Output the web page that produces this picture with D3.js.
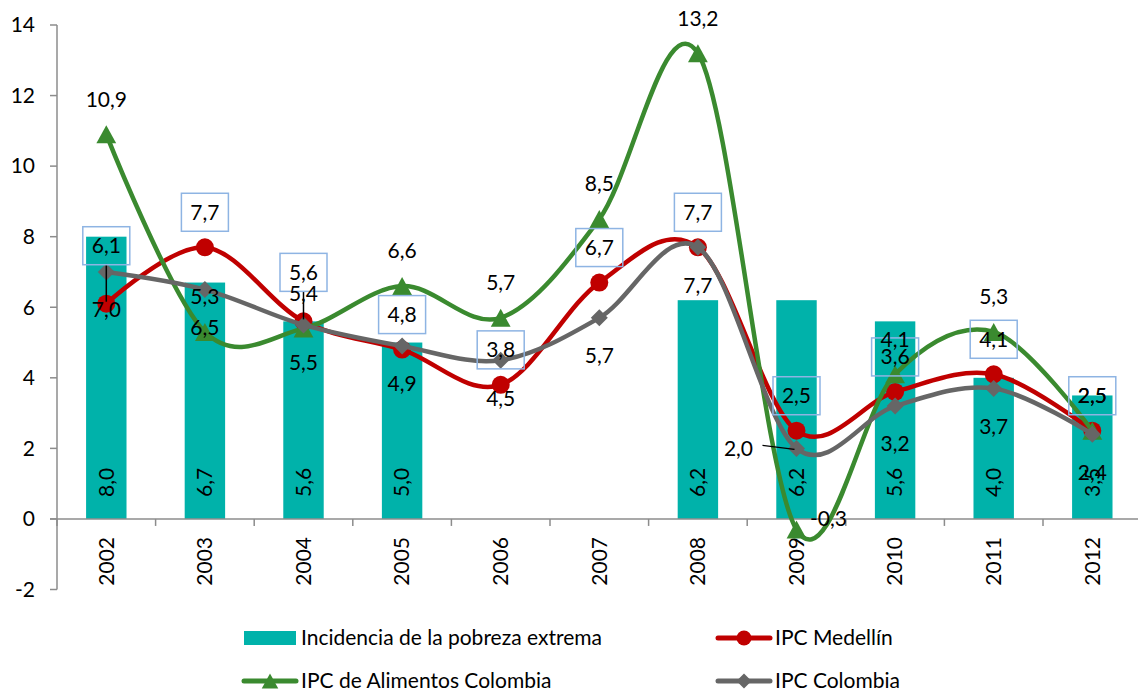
<!DOCTYPE html>
<html>
<head>
<meta charset="utf-8">
<script src="https://cdn.jsdelivr.net/npm/d3@7"></script>
<style>
  body { margin: 0; background: #fff; }
  svg { display: block; font-family: Lato, "Open Sans", sans-serif; }
</style>
</head>
<body>
<div id="chart"></div>
<script>
// Data
const years = ["2002", "2003", "2004", "2005", "2006", "2007", "2008", "2009", "2010", "2011", "2012"];
const pobrezaExtrema = [8.0, 6.7, 5.6, 5.0, null, null, 6.2, 6.2, 5.6, 4.0, 3.5];
const ipcMedellin = [6.1, 7.7, 5.6, 4.8, 3.8, 6.7, 7.7, 2.5, 3.6, 4.1, 2.5];
const ipcAlimentos = [10.9, 5.3, 5.4, 6.6, 5.7, 8.5, 13.2, -0.3, 4.1, 5.3, 2.5];
const ipcColombia = [7.0, 6.5, 5.5, 4.9, 4.5, 5.7, 7.7, 2.0, 3.2, 3.7, 2.4];
const yTicks = [-2, 0, 2, 4, 6, 8, 10, 12, 14];

// Configuration
const width = 1138;
const height = 691;
const fontSize = 21;
const colors = { bar: "#00B2AA", red: "#C00000", green: "#3A8A2F", grey: "#666666", axis: "#8C8C8C", box: "#8EB4E3" };

const locale = d3.formatLocale({ decimal: ",", thousands: ".", grouping: [3], currency: ["", ""], minus: "-" });
const fmt = locale.format(".1f");

const x = d3.scaleBand().domain(years).range([57, 1141.6]);
const y = d3.scaleLinear().domain([-2, 14]).range([589.5, 25]);
const cx = d => x(d) + x.bandwidth() / 2;

const svg = d3.select("#chart").append("svg")
    .attr("width", width)
    .attr("height", height);

// Y axis
const yAxis = svg.append("g");
yAxis.append("line")
    .attr("x1", x.range()[0]).attr("x2", x.range()[0])
    .attr("y1", y(14)).attr("y2", y(-2))
    .attr("stroke", colors.axis).attr("stroke-width", 1.5);
yAxis.selectAll(".tick").data(yTicks).enter().append("line")
    .attr("x1", x.range()[0] - 7).attr("x2", x.range()[0])
    .attr("y1", d => y(d)).attr("y2", d => y(d))
    .attr("stroke", colors.axis).attr("stroke-width", 1.5);
yAxis.selectAll("text").data(yTicks).enter().append("text")
    .attr("x", 35).attr("y", d => y(d)).attr("dy", "0.35em")
    .attr("text-anchor", "end").attr("font-size", fontSize)
    .text(d => locale.format("d")(d));

// Bars
const barW = x.bandwidth() * 0.41;
const barData = years.map((yr, i) => ({ yr, v: pobrezaExtrema[i] })).filter(d => d.v != null);
svg.selectAll(".bar").data(barData).enter().append("rect")
    .attr("x", d => cx(d.yr) - barW / 2)
    .attr("width", barW)
    .attr("y", d => y(d.v))
    .attr("height", d => y(0) - y(d.v))
    .attr("fill", colors.bar);

// X axis
const xAxis = svg.append("g");
xAxis.append("line")
    .attr("x1", x.range()[0] - 7).attr("x2", x.range()[1])
    .attr("y1", y(0)).attr("y2", y(0))
    .attr("stroke", colors.axis).attr("stroke-width", 1.5);
xAxis.selectAll(".tick").data(d3.range(years.length + 1)).enter().append("line")
    .attr("x1", i => x.range()[0] + i * x.step()).attr("x2", i => x.range()[0] + i * x.step())
    .attr("y1", y(0)).attr("y2", y(0) + 7)
    .attr("stroke", colors.axis).attr("stroke-width", 1.5);
xAxis.selectAll("text").data(years).enter().append("text")
    .attr("transform", d => `translate(${cx(d)},${y(0) + 18}) rotate(-90)`)
    .attr("dy", "0.35em").attr("text-anchor", "end").attr("font-size", fontSize)
    .text(d => d);

// Bar labels (inside base)
svg.selectAll(".barlabel").data(barData).enter().append("text")
    .attr("transform", d => `translate(${cx(d.yr)},${y(0) - 22}) rotate(-90)`)
    .attr("dy", "0.35em").attr("text-anchor", "start").attr("font-size", fontSize)
    .text(d => fmt(d.v));

// Markers
const tri = (s) => `M0,${-s}L${s * 1.1},${s}L${-s * 1.1},${s}Z`;
const diamond = (s) => `M0,${-s}L${s},0L0,${s}L${-s},0Z`;

const series = [
    { name: "IPC Medellín", values: ipcMedellin, color: colors.red, marker: "circle" },
    { name: "IPC de Alimentos Colombia", values: ipcAlimentos, color: colors.green, marker: "triangle" },
    { name: "IPC Colombia", values: ipcColombia, color: colors.grey, marker: "diamond" }
];

const line = d3.line()
    .x(d => cx(d.yr))
    .y(d => y(d.v))
    .curve(d3.curveCardinal.tension(0));

series.forEach(s => {
    const pts = years.map((yr, i) => ({ yr, v: s.values[i] }));
    svg.append("path")
        .datum(pts)
        .attr("d", line)
        .attr("fill", "none")
        .attr("stroke", s.color)
        .attr("stroke-width", 4.5);
    const g = svg.append("g");
    if (s.marker === "circle") {
        g.selectAll("circle").data(pts).enter().append("circle")
            .attr("cx", d => cx(d.yr)).attr("cy", d => y(d.v)).attr("r", 9)
            .attr("fill", s.color);
    } else {
        g.selectAll("path").data(pts).enter().append("path")
            .attr("transform", d => `translate(${cx(d.yr)},${y(d.v)})`)
            .attr("d", s.marker === "triangle" ? tri(9) : diamond(8.5))
            .attr("fill", s.color);
    }
});

// Data labels: default offsets per series, with a few moved labels
const labelPos = {
    red: { dx: 0, dy: -35, moved: { "2002": { dx: 0, dy: -58, leader: true }, "2004": { dx: 0, dy: -49, leader: true } } },
    green: { dx: 0, dy: -35, moved: { "2009": { dx: 32, dy: -11 } } },
    grey: { dx: 0, dy: 38, moved: { "2009": { dx: -58, dy: 0, leader: true } } }
};

function drawLabels(values, key, boxed) {
    years.forEach((yr, i) => {
        const v = values[i];
        const p = Object.assign({ dx: labelPos[key].dx, dy: labelPos[key].dy }, labelPos[key].moved[yr] || {});
        const px = cx(yr), py = y(v);
        const lx = px + p.dx, ly = py + p.dy;
        if (p.leader) {
            if (boxed) {
                svg.append("line")
                    .attr("x1", px).attr("x2", px)
                    .attr("y1", ly + 19).attr("y2", py - 2)
                    .attr("stroke", "#000").attr("stroke-width", 1.5);
            } else {
                svg.append("line")
                    .attr("x1", lx + 24).attr("x2", px - 2)
                    .attr("y1", ly - 3).attr("y2", py + 1)
                    .attr("stroke", "#000").attr("stroke-width", 1.5);
            }
        }
        if (boxed) {
            svg.append("rect")
                .attr("x", lx - 23.5).attr("y", ly - 19)
                .attr("width", 47).attr("height", 38)
                .attr("fill", "none")
                .attr("stroke", colors.box).attr("stroke-width", 1.5);
        }
        svg.append("text")
            .attr("x", lx).attr("y", ly).attr("dy", "0.35em")
            .attr("text-anchor", "middle").attr("font-size", fontSize)
            .text(fmt(v));
    });
}
drawLabels(ipcMedellin, "red", true);
drawLabels(ipcAlimentos, "green", false);
drawLabels(ipcColombia, "grey", false);

// Legend
const legend = svg.append("g").attr("font-size", fontSize);
const legendItems = [
    { label: "Incidencia de la pobreza extrema", type: "bar", x: 244, y: 638 },
    { label: "IPC Medellín", type: "circle", color: colors.red, x: 716, y: 638 },
    { label: "IPC de Alimentos Colombia", type: "triangle", color: colors.green, x: 242, y: 681 },
    { label: "IPC Colombia", type: "diamond", color: colors.grey, x: 716, y: 681 }
];
legendItems.forEach(d => {
    const g = legend.append("g").attr("transform", `translate(${d.x},${d.y})`);
    if (d.type === "bar") {
        g.append("rect").attr("x", 0).attr("y", -7).attr("width", 52).attr("height", 14).attr("fill", colors.bar);
    } else {
        g.append("line").attr("x1", 2).attr("x2", 54).attr("y1", 0).attr("y2", 0)
            .attr("stroke", d.color).attr("stroke-width", 5).attr("stroke-linecap", "round");
        if (d.type === "circle") {
            g.append("circle").attr("cx", 28).attr("cy", 0).attr("r", 7.5).attr("fill", d.color);
        } else {
            g.append("path").attr("transform", "translate(28,0)")
                .attr("d", d.type === "triangle" ? tri(7.5) : diamond(7.5)).attr("fill", d.color);
        }
    }
    g.append("text").attr("x", d.type === "bar" ? 57 : 59).attr("y", 0).attr("dy", "0.35em").text(d.label);
});
</script>
</body>
</html>
